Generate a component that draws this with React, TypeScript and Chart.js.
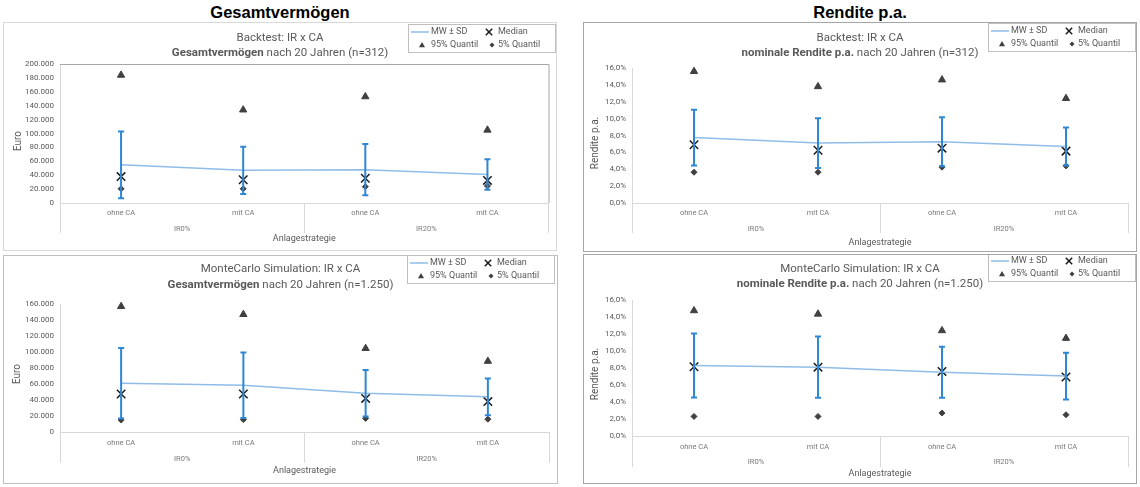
import React, { useEffect, useRef } from 'react';
import { Chart, registerables } from 'chart.js';

Chart.register(...registerables);

// ---------- data ----------
const categories = ['ohne CA', 'mit CA', 'ohne CA', 'mit CA'];
const groups = ['IR0%', 'IR20%'];
const legendLabels = ['MW ± SD', 'Median', '95% Quantil', '5% Quantil'];
const xAxisTitle = 'Anlagestrategie';

// Backtest – Gesamtvermögen (Euro)
const btVermMean = [55000, 47000, 48000, 41000];
const btVermSd = [48000, 34000, 37000, 22000];
const btVermMedian = [38000, 33500, 35500, 32500];
const btVermQ95 = [184000, 134000, 153000, 105000];
const btVermQ5 = [20500, 20500, 23500, 24500];

// Backtest – nominale Rendite p.a. (%)
const btRendMean = [7.75, 7.1, 7.25, 6.7];
const btRendSd = [3.3, 2.95, 2.9, 2.25];
const btRendMedian = [6.9, 6.25, 6.5, 6.15];
const btRendQ95 = [15.6, 13.8, 14.6, 12.4];
const btRendQ5 = [3.65, 3.65, 4.25, 4.4];

// MonteCarlo – Gesamtvermögen (Euro)
const mcVermMean = [61000, 58500, 48500, 44000];
const mcVermSd = [44000, 41000, 29000, 23000];
const mcVermMedian = [47500, 47500, 42000, 38000];
const mcVermQ95 = [157000, 147000, 104500, 88500];
const mcVermQ5 = [15000, 15500, 17000, 16000];

// MonteCarlo – nominale Rendite p.a. (%)
const mcRendMean = [8.3, 8.1, 7.5, 7.05];
const mcRendSd = [3.77, 3.6, 3.0, 2.75];
const mcRendMedian = [8.15, 8.1, 7.6, 6.95];
const mcRendQ95 = [14.75, 14.35, 12.4, 11.5];
const mcRendQ5 = [2.3, 2.3, 2.7, 2.5];

// ---------- styles ----------
const FONT = 'Roboto, "Liberation Sans", sans-serif';
const MEAN_COLOR = '#8fbde8';
const ERR_COLOR = '#2e86d6';
const MARK_DARK = '#404040';
const MED_COLOR = '#1a1a1a';
const TEXT = '#595959';
const TICK_TEXT = '#7a7a7a';
const AXIS = '#d9d9d9';
const CAT_FONT = 7.5;
const TICK_FONT = 8;
const AXT_FONT = 9;
const YT_FONT = 10;

const fmtEuro = (v: number) => String(Math.round(v)).replace(/\B(?=(\d{3})+(?!\d))/g, '.');
const fmtPct = (v: number) => v.toFixed(1).replace('.', ',') + '%';

type Cfg = {
  panel: { x: number; y: number; w: number; h: number; border: string };
  plot: { l: number; r: number; t: number; b: number };
  catY: number; grpY: number; axTitleY: number; sepLen: number;
  yTitleX: number; yTitleY: number;
  titleY1: number; titleY2: number;
  legend: { x: number; y: number };
  frame: boolean;
  line1: string; bold: string; rest: string;
  yTitle: string; max: number; step: number; fmt: (v: number) => string;
  mean: number[]; sd: number[]; median: number[]; q95: number[]; q5: number[];
};

const panels: Cfg[] = [
  {
    panel: { x: 3, y: 22, w: 554, h: 229, border: '#d9d9d9' },
    plot: { l: 60, r: 549, t: 64, b: 203 },
    catY: 213, grpY: 229, axTitleY: 239, sepLen: 30, yTitleX: 18, yTitleY: 141,
    titleY1: 38, titleY2: 53, legend: { x: 408, y: 24 }, frame: true,
    line1: 'Backtest: IR x CA', bold: 'Gesamtvermögen', rest: ' nach 20 Jahren (n=312)',
    yTitle: 'Euro', max: 200000, step: 20000, fmt: fmtEuro,
    mean: btVermMean, sd: btVermSd, median: btVermMedian, q95: btVermQ95, q5: btVermQ5,
  },
  {
    panel: { x: 583, y: 22, w: 554, h: 230, border: '#a6a6a6' },
    plot: { l: 632, r: 1128, t: 68, b: 203 },
    catY: 213, grpY: 229, axTitleY: 243, sepLen: 30, yTitleX: 595, yTitleY: 143,
    titleY1: 38, titleY2: 53, legend: { x: 988, y: 23 }, frame: false,
    line1: 'Backtest: IR x CA', bold: 'nominale Rendite p.a.', rest: ' nach 20 Jahren (n=312)',
    yTitle: 'Rendite p.a.', max: 16, step: 2, fmt: fmtPct,
    mean: btRendMean, sd: btRendSd, median: btRendMedian, q95: btRendQ95, q5: btRendQ5,
  },
  {
    panel: { x: 3, y: 255, w: 555, h: 229, border: '#bfbfbf' },
    plot: { l: 60, r: 549, t: 304, b: 432 },
    catY: 443, grpY: 459, axTitleY: 471, sepLen: 31, yTitleX: 17, yTitleY: 374,
    titleY1: 269, titleY2: 285, legend: { x: 407, y: 255 }, frame: false,
    line1: 'MonteCarlo Simulation: IR x CA', bold: 'Gesamtvermögen', rest: ' nach 20 Jahren (n=1.250)',
    yTitle: 'Euro', max: 160000, step: 20000, fmt: fmtEuro,
    mean: mcVermMean, sd: mcVermSd, median: mcVermMedian, q95: mcVermQ95, q5: mcVermQ5,
  },
  {
    panel: { x: 583, y: 254, w: 554, h: 230, border: '#a6a6a6' },
    plot: { l: 632, r: 1128, t: 300, b: 436 },
    catY: 447, grpY: 462, axTitleY: 474, sepLen: 31, yTitleX: 595, yTitleY: 374,
    titleY1: 269, titleY2: 284, legend: { x: 988, y: 253 }, frame: false,
    line1: 'MonteCarlo Simulation: IR x CA', bold: 'nominale Rendite p.a.', rest: ' nach 20 Jahren (n=1.250)',
    yTitle: 'Rendite p.a.', max: 16, step: 2, fmt: fmtPct,
    mean: mcRendMean, sd: mcRendSd, median: mcRendMedian, q95: mcRendQ95, q5: mcRendQ5,
  },
];

function drawMarker(ctx: CanvasRenderingContext2D, style: string, x: number, y: number, r: number) {
  ctx.save();
  ctx.beginPath();
  if (style === 'triangle') {
    ctx.moveTo(x, y - r);
    ctx.lineTo(x + r * 0.866, y + r * 0.5);
    ctx.lineTo(x - r * 0.866, y + r * 0.5);
    ctx.closePath();
    ctx.fillStyle = MARK_DARK;
    ctx.fill();
  } else if (style === 'rectRot') {
    ctx.moveTo(x - r, y);
    ctx.lineTo(x, y - r);
    ctx.lineTo(x + r, y);
    ctx.lineTo(x, y + r);
    ctx.closePath();
    ctx.fillStyle = MARK_DARK;
    ctx.fill();
  } else if (style === 'crossRot') {
    const d = r * 0.7071;
    ctx.moveTo(x - d, y - d); ctx.lineTo(x + d, y + d);
    ctx.moveTo(x + d, y - d); ctx.lineTo(x - d, y + d);
    ctx.strokeStyle = MED_COLOR;
    ctx.lineWidth = 1.5;
    ctx.stroke();
  } else if (style === 'line') {
    ctx.moveTo(x - 9, y); ctx.lineTo(x + 9, y);
    ctx.strokeStyle = MEAN_COLOR;
    ctx.lineWidth = 1.5;
    ctx.stroke();
  }
  ctx.restore();
}

function ChartPanel({ cfg }: { cfg: Cfg }) {
  const ref = useRef<HTMLCanvasElement>(null);
  const cw = cfg.panel.w - 2;
  const ch = cfg.panel.h - 2;

  useEffect(() => {
    const ox = cfg.panel.x + 1, oy = cfg.panel.y + 1;
    const cTop = cfg.plot.t - oy, cBottom = cfg.plot.b - oy;
    const cLeft = cfg.plot.l - ox, cRight = cfg.plot.r - ox;
    const catLH = CAT_FONT * 1.2;
    const axtLH = AXT_FONT * 1.2;
    const Hx = cfg.catY - cfg.plot.b + 6;
    const xPad = (cfg.catY - cfg.plot.b) - cfg.sepLen - catLH / 2;
    const xgTop = cfg.plot.b + Hx;
    const xgPad = cfg.grpY - xgTop - catLH / 2;
    const Hg = cfg.axTitleY + axtLH / 2 - xgTop;
    const padBottom = ch - (cBottom + Hx + Hg);

    const overlay = {
      id: 'overlay',
      beforeDatasetsDraw(chart: any) {
        const ctx = chart.ctx as CanvasRenderingContext2D;
        const a = chart.chartArea;
        if (cfg.frame) {
          ctx.save();
          ctx.strokeStyle = '#a6a6a6';
          ctx.lineWidth = 1;
          ctx.beginPath();
          ctx.moveTo(a.left, a.top + 0.5);
          ctx.lineTo(a.right + 0.5, a.top + 0.5);
          ctx.lineTo(a.right + 0.5, a.bottom);
          ctx.stroke();
          ctx.restore();
        }
      },
      afterDatasetDraw(chart: any, args: any) {
        if (args.index !== 0) return;
        const ctx = chart.ctx as CanvasRenderingContext2D;
        const meta = chart.getDatasetMeta(0);
        const ys = chart.scales.y;
        ctx.save();
        ctx.strokeStyle = ERR_COLOR;
        ctx.lineWidth = 2;
        meta.data.forEach((pt: any, i: number) => {
          const m = cfg.mean[i], s = cfg.sd[i];
          const yt = ys.getPixelForValue(m + s);
          const yb = ys.getPixelForValue(m - s);
          ctx.beginPath();
          ctx.moveTo(pt.x, yt); ctx.lineTo(pt.x, yb);
          ctx.moveTo(pt.x - 3, yt); ctx.lineTo(pt.x + 3, yt);
          ctx.moveTo(pt.x - 3, yb); ctx.lineTo(pt.x + 3, yb);
          ctx.stroke();
        });
        ctx.restore();
      },
      afterDraw(chart: any) {
        const ctx = chart.ctx as CanvasRenderingContext2D;
        // y axis title
        ctx.save();
        ctx.translate(cfg.yTitleX - ox, cfg.yTitleY - oy);
        ctx.rotate(-Math.PI / 2);
        ctx.fillStyle = TEXT;
        ctx.font = `${YT_FONT}px ${FONT}`;
        ctx.textAlign = 'center';
        ctx.textBaseline = 'middle';
        ctx.fillText(cfg.yTitle, 0, 0);
        ctx.restore();

        // titles
        const cx = (cfg.panel.x + cfg.panel.w / 2) - ox;
        ctx.save();
        ctx.fillStyle = TEXT;
        ctx.textBaseline = 'middle';
        ctx.textAlign = 'center';
        ctx.font = `11.5px ${FONT}`;
        ctx.fillText(cfg.line1, cx, cfg.titleY1 - oy);
        ctx.font = `bold 11.5px ${FONT}`;
        const wb = ctx.measureText(cfg.bold).width;
        ctx.font = `11.5px ${FONT}`;
        const wn = ctx.measureText(cfg.rest).width;
        const sx = cx - (wb + wn) / 2;
        ctx.textAlign = 'left';
        ctx.font = `bold 11.5px ${FONT}`;
        ctx.fillText(cfg.bold, sx, cfg.titleY2 - oy);
        ctx.font = `11.5px ${FONT}`;
        ctx.fillText(cfg.rest, sx + wb, cfg.titleY2 - oy);
        ctx.restore();

        // legend
        const lx = cfg.legend.x - ox, ly = cfg.legend.y - oy;
        const lw = 148, lh = 29;
        ctx.save();
        ctx.fillStyle = '#ffffff';
        ctx.fillRect(lx, ly, lw, lh);
        ctx.strokeStyle = '#bfbfbf';
        ctx.lineWidth = 1;
        ctx.strokeRect(lx + 0.5, ly + 0.5, lw - 1, lh - 1);
        const r1 = ly + 8, r2 = ly + 21;
        drawMarker(ctx, 'line', lx + 12, r1, 0);
        drawMarker(ctx, 'crossRot', lx + 81, r1, 4.5);
        drawMarker(ctx, 'triangle', lx + 14, r2 + 0.5, 3.5);
        drawMarker(ctx, 'rectRot', lx + 84, r2, 2.5);
        ctx.fillStyle = TEXT;
        ctx.font = `9px ${FONT}`;
        ctx.textBaseline = 'middle';
        ctx.textAlign = 'left';
        ctx.fillText(legendLabels[0], lx + 23, r1);
        ctx.fillText(legendLabels[1], lx + 90, r1);
        ctx.fillText(legendLabels[2], lx + 23, r2);
        ctx.fillText(legendLabels[3], lx + 90, r2);
        ctx.restore();
      },
    };

    const chart = new Chart(ref.current as HTMLCanvasElement, {
      type: 'line',
      data: {
        labels: categories,
        datasets: [
          {
            label: legendLabels[0], data: cfg.mean, borderColor: MEAN_COLOR, borderWidth: 1.5,
            pointRadius: 0, fill: false, tension: 0,
          },
          {
            label: legendLabels[1], data: cfg.median, showLine: false, pointStyle: 'crossRot',
            pointRadius: 6, pointBorderWidth: 1.5, pointBorderColor: MED_COLOR, borderColor: MED_COLOR,
            pointBackgroundColor: MED_COLOR, clip: false,
          },
          {
            label: legendLabels[2], data: cfg.q95, showLine: false, pointStyle: 'triangle',
            pointRadius: 4.2, pointBorderWidth: 1, pointBorderColor: MARK_DARK, pointBackgroundColor: MARK_DARK,
            borderColor: MARK_DARK, clip: false,
          },
          {
            label: legendLabels[3], data: cfg.q5, showLine: false, pointStyle: 'rectRot',
            pointRadius: 3, pointBorderWidth: 1, pointBorderColor: MARK_DARK, pointBackgroundColor: MARK_DARK,
            borderColor: MARK_DARK, clip: false,
          },
        ],
      },
      options: {
        responsive: false,
        animation: false,
        events: [],
        layout: { padding: { top: cTop, left: 0, right: cw - cRight, bottom: padBottom } },
        plugins: { legend: { display: false }, title: { display: false }, tooltip: { enabled: false } },
        scales: {
          x: {
            type: 'category',
            offset: true,
            weight: 0,
            grid: {
              display: true, offset: true, drawOnChartArea: false, drawTicks: true, tickLength: cfg.sepLen,
              lineWidth: 1,
              color: (c: any) => (c.index === 1 || c.index === 3 ? 'rgba(0,0,0,0)' : AXIS),
            },
            border: { display: true, color: AXIS, width: 1 },
            ticks: { padding: xPad, maxRotation: 0, autoSkip: false, font: { family: FONT, size: CAT_FONT }, color: TICK_TEXT },
            afterFit: (s: any) => { s.height = Hx; },
          },
          xg: {
            type: 'category',
            labels: groups,
            position: 'bottom',
            offset: true,
            weight: 1,
            grid: { display: false, drawTicks: false },
            border: { display: false },
            ticks: { padding: xgPad, maxRotation: 0, autoSkip: false, font: { family: FONT, size: CAT_FONT }, color: TICK_TEXT },
            title: { display: true, text: xAxisTitle, padding: 0, font: { family: FONT, size: AXT_FONT }, color: TEXT },
            afterFit: (s: any) => { s.height = Hg; },
          },
          y: {
            min: 0,
            max: cfg.max,
            ticks: { stepSize: cfg.step, padding: 6, callback: (v: any) => cfg.fmt(Number(v)), font: { family: FONT, size: TICK_FONT }, color: TEXT },
            grid: { display: false, drawTicks: false },
            border: { display: true, color: AXIS, width: 1 },
            title: { display: false },
            afterFit: (s: any) => { s.width = cLeft; },
          },
        },
      } as any,
      plugins: [overlay],
    });
    return () => chart.destroy();
  }, [cfg]);

  return (
    <div
      style={{
        position: 'absolute', left: cfg.panel.x, top: cfg.panel.y, width: cfg.panel.w, height: cfg.panel.h,
        boxSizing: 'border-box', border: `1px solid ${cfg.panel.border}`, background: '#fff',
      }}
    >
      <canvas ref={ref} width={cw} height={ch} style={{ display: 'block', width: cw, height: ch }} />
    </div>
  );
}

const headerStyle: React.CSSProperties = {
  position: 'absolute', top: 1, height: 22, lineHeight: '22px', textAlign: 'center',
  fontFamily: '"Liberation Sans", Arial, sans-serif', fontWeight: 'bold', fontSize: 16.5, color: '#000',
};

export default function App() {
  return (
    <div style={{ position: 'absolute', left: 0, top: 0, width: 1140, height: 487, background: '#fff', overflow: 'hidden' }}>
      <div style={{ ...headerStyle, left: 3, width: 554 }}>Gesamtvermögen</div>
      <div style={{ ...headerStyle, left: 583, width: 554 }}>Rendite p.a.</div>
      {panels.map((p, i) => (
        <ChartPanel key={i} cfg={p} />
      ))}
    </div>
  );
}
